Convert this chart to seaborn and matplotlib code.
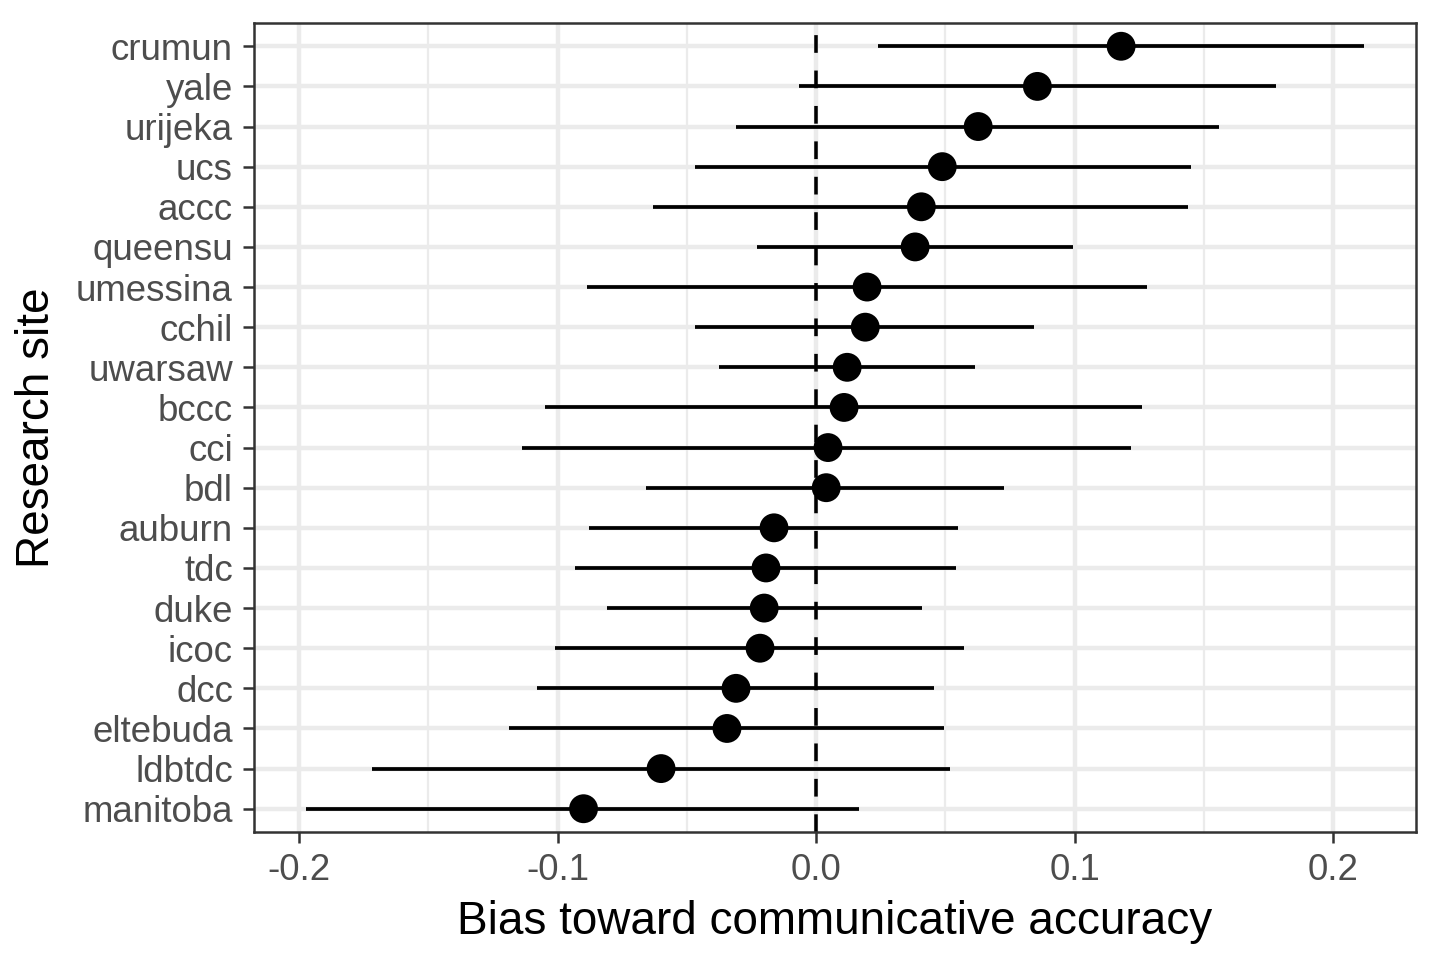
import numpy as np
import pandas as pd
import matplotlib
matplotlib.use("Agg")
import matplotlib.pyplot as plt
import seaborn as sns

sites = ["crumun", "yale", "urijeka", "ucs", "accc", "queensu", "umessina", "cchil",
         "uwarsaw", "bccc", "cci", "bdl", "auburn", "tdc", "duke", "icoc", "dcc",
         "eltebuda", "ldbtdc", "manitoba"]
estimate = [0.118, 0.0856, 0.0627, 0.0488, 0.0407, 0.0383, 0.0197, 0.019,
            0.012, 0.0108, 0.0046, 0.0039, -0.0163, -0.0194, -0.0201, -0.0217,
            -0.031, -0.0345, -0.060, -0.090]
lower = [0.024, -0.0066, -0.031, -0.047, -0.063, -0.023, -0.0887, -0.047,
         -0.0376, -0.105, -0.114, -0.066, -0.0879, -0.0933, -0.081, -0.101,
         -0.108, -0.119, -0.172, -0.1975]
upper = [0.212, 0.178, 0.156, 0.145, 0.144, 0.0995, 0.128, 0.0844,
         0.0616, 0.126, 0.122, 0.0728, 0.055, 0.0542, 0.041, 0.0573,
         0.0457, 0.0496, 0.0519, 0.0166]
x_ticks = [-0.2, -0.1, 0.0, 0.1, 0.2]
x_tick_labels = ["-0.2", "-0.1", "0.0", "0.1", "0.2"]

df = pd.DataFrame({"site": sites, "est": estimate, "lo": lower, "hi": upper})
df = df.iloc[::-1].reset_index(drop=True)  # manitoba at bottom

sns.set_theme(style="white")
plt.rcParams["font.family"] = ["Liberation Sans", "DejaVu Sans"]

fig = plt.figure(figsize=(4.8, 3.2), dpi=300)
ax = fig.add_axes([253.5 / 1440, 1 - 832 / 960, (1416 - 253.5) / 1440, (832 - 23) / 960])

grid_c = "#EBEBEB"
ypos = np.arange(len(df))
# grid
for v in x_ticks:
    ax.axvline(v, color=grid_c, lw=1.07, zorder=0)
for v in [-0.15, -0.05, 0.05, 0.15]:
    ax.axvline(v, color=grid_c, lw=0.53, zorder=0)
for y in ypos:
    ax.axhline(y, color=grid_c, lw=1.07, zorder=0)

ax.axvline(0, color="black", lw=0.85, linestyle=(0, (5, 5)), zorder=1)
ax.hlines(ypos, df["lo"], df["hi"], color="black", lw=0.9, zorder=2)
sns.scatterplot(x=df["est"], y=ypos, ax=ax, color="black", s=48, edgecolor="none",
                zorder=3, legend=False)

ax.set_xlim(-0.2177, 0.2321)
ax.set_ylim(-0.58, len(df) - 1 + 0.58)
ax.set_yticks(ypos)
ax.set_yticklabels(df["site"])
ax.set_xticks(x_ticks)
ax.set_xticklabels(x_tick_labels)
ax.tick_params(axis="both", which="major", length=2.75, width=0.6, color="#333333",
               labelsize=8.8, labelcolor="#4D4D4D", pad=2.2, direction="out",
               bottom=True, left=True)
ax.set_xlabel("Bias toward communicative accuracy", fontsize=11, color="black", labelpad=3)
ax.set_ylabel("Research site", fontsize=11, color="black", labelpad=4)
for s in ax.spines.values():
    s.set_color("#333333")
    s.set_linewidth(0.6)
    s.set_visible(True)
ax.grid(False)

fig.savefig("out.png", dpi=300, facecolor="white")
